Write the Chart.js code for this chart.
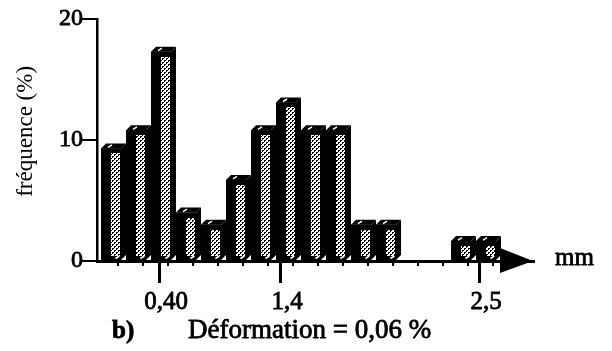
<!DOCTYPE html>
<html><head><meta charset="utf-8">
<script src="https://cdn.jsdelivr.net/npm/chart.js@4/dist/chart.umd.min.js"></script>
<style>html,body{margin:0;padding:0;background:#fff;}#wrap{width:612px;height:351px;}</style>
</head><body><div id="wrap"><canvas id="c" width="612" height="351"></canvas></div>
<script>
// ---- data ----
const bins = [1,2,3,4,5,6,7,8,9,10,11,12,13,14,15,16];
const frequency = [9.3,10.8,17.3,4.0,3.0,6.7,10.8,13.1,10.8,10.8,3.0,3.0,0,0,1.65,1.65];
const xTickValues = [2.92, 7.76, 15.72];
const xTickLabels = ['0,40', '1,4', '2,5'];
const yTickValues = [0, 10, 20];
const xUnit = 'mm';
const yTitle = '   fréquence (%)';
const captionLetter = 'b)';
const captionText = 'Déformation = 0,06 %';

const FONT = "'Liberation Serif', 'Times New Roman', serif";

// dotted pattern
const tile = document.createElement('canvas');
tile.width = 4; tile.height = 4;
const tctx = tile.getContext('2d');
tctx.fillStyle = '#fff'; tctx.fillRect(0,0,4,4);
tctx.fillStyle = '#000';
tctx.fillRect(0,0,2,1); tctx.fillRect(0,1,1,1);
tctx.fillRect(2,2,2,1); tctx.fillRect(2,3,1,1);

const bar3d = {
  id: 'bar3d',
  afterDatasetsDraw(chart) {
    const ctx = chart.ctx;
    const pattern = ctx.createPattern(tile, 'repeat');
    const meta = chart.getDatasetMeta(0);
    meta.data.forEach((el, i) => {
      if (!frequency[i]) return;
      const p = el.getProps(['x','y','base','width'], true);
      const l = p.x - p.width/2, r = p.x + p.width/2, d = 5, top = p.y, base = p.base;
      ctx.save();
      ctx.fillStyle = '#000';
      ctx.beginPath(); ctx.moveTo(r, top); ctx.lineTo(r+d, top-d); ctx.lineTo(r+d, base-d); ctx.lineTo(r, base); ctx.closePath(); ctx.fill();
      ctx.beginPath(); ctx.moveTo(l, top); ctx.lineTo(l+d, top-d); ctx.lineTo(r+d, top-d); ctx.lineTo(r, top); ctx.closePath(); ctx.fill();
      ctx.fillRect(l, top, r-l, base-top);
      ctx.fillStyle = pattern;
      const sh = base - top - 9;
      if (sh > 0) ctx.fillRect(Math.round(l + p.width*0.5), Math.round(top + 5), Math.round(p.width*0.46), Math.round(sh));
      ctx.strokeStyle = '#fff'; ctx.lineWidth = 1.5;
      ctx.beginPath(); ctx.moveTo(l + p.width*0.35, top - 1); ctx.lineTo(l + p.width*0.35 + d - 1, top - d + 1.5); ctx.stroke();
      ctx.beginPath(); ctx.moveTo(l + p.width*0.72, base - 1.5); ctx.lineTo(l + p.width*0.92, base - 4); ctx.stroke();
      ctx.restore();
    });
  },
  afterDraw(chart) {
    const ctx = chart.ctx, xs = chart.scales.x, ca = chart.chartArea;
    ctx.save();
    ctx.strokeStyle = '#000'; ctx.lineWidth = 2;
    bins.forEach(k => {
      const px = xs.getPixelForValue(k + 0.28);
      ctx.beginPath(); ctx.moveTo(px, ca.bottom); ctx.lineTo(px, ca.bottom + 5); ctx.stroke();
    });
    ctx.fillStyle = '#000';
    ctx.beginPath();
    ctx.moveTo(ca.right - 33, ca.bottom - 13);
    ctx.lineTo(ca.right, ca.bottom);
    ctx.lineTo(ca.right - 33, ca.bottom + 12);
    ctx.closePath(); ctx.fill();
    ctx.textBaseline = 'alphabetic'; ctx.textAlign = 'left';
    ctx.lineWidth = 0.8; ctx.lineJoin = 'round';
    const txt = (s, x, y) => { ctx.fillText(s, x, y); ctx.strokeText(s, x, y); };
    ctx.font = '25px ' + FONT;
    txt(xUnit, 555, 265);
    ctx.font = 'bold 25px ' + FONT;
    txt(captionLetter, 112, 338);
    ctx.font = '27px ' + FONT;
    txt(captionText, 188, 338);
    ctx.restore();
  }
};

new Chart(document.getElementById('c'), {
  type: 'bar',
  data: {
    datasets: [{
      data: bins.map((b, i) => ({x: b, y: frequency[i]})),
      backgroundColor: '#000',
      borderWidth: 0,
      barPercentage: 0.8,
      categoryPercentage: 1.0
    }]
  },
  options: {
    responsive: false,
    animation: false,
    devicePixelRatio: 1,
    layout: { padding: { left: 0, right: 79, top: 19, bottom: 0 } },
    plugins: { legend: { display: false }, tooltip: { enabled: false } },
    scales: {
      x: {
        type: 'linear', min: 0.44, max: 17.88, offset: false,
        afterBuildTicks: s => { s.ticks = xTickValues.map(v => ({value: v})); },
        afterFit: s => { s.height = 90; },
        grid: { drawOnChartArea: false, offset: false, tickLength: 22, lineWidth: 3, color: '#000' },
        border: { display: true, color: '#000', width: 3 },
        ticks: { callback: (v, i) => xTickLabels[i], font: { family: FONT, size: 25 }, color: '#000', textStrokeColor: '#000', textStrokeWidth: 0.8, labelOffset: 7, padding: 4, maxRotation: 0, autoSkip: false }
      },
      y: {
        type: 'linear', min: 0, max: 20,
        afterBuildTicks: s => { s.ticks = yTickValues.map(v => ({value: v})); },
        afterFit: s => { s.width = 97; },
        grid: { drawOnChartArea: false, tickLength: 17, lineWidth: 2, color: '#000' },
        border: { display: true, color: '#000', width: 2.5 },
        ticks: { font: { family: FONT, size: 24 }, color: '#000', textStrokeColor: '#000', textStrokeWidth: 0.8, padding: -3 },
        title: { display: true, text: yTitle, font: { family: FONT, size: 23 }, color: '#000', padding: { top: 12, bottom: 0 } }
      }
    }
  },
  plugins: [bar3d]
});
</script>
</body></html>
